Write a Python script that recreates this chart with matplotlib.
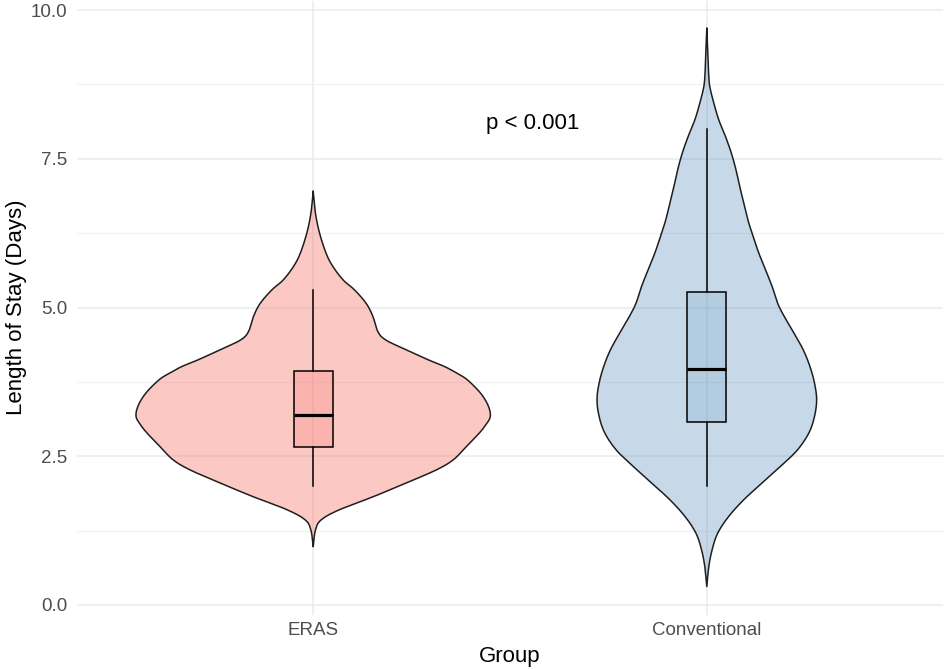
import numpy as np
import matplotlib
matplotlib.use("Agg")
import matplotlib.pyplot as plt
from matplotlib.patches import Rectangle

plt.rcParams['font.family'] = ['Liberation Sans', 'DejaVu Sans']

groups = ['ERAS', 'Conventional']

# Violin outlines: length of stay (days) and relative half-width
eras_los = [6.95, 6.58, 6.25, 5.91, 5.69, 5.46, 5.30, 5.07, 4.85, 4.59, 4.45,
            4.29, 4.12, 4.01, 3.89, 3.78, 3.56, 3.35, 3.17, 3.03, 2.89, 2.66, 2.44,
            2.27, 2.05, 1.82, 1.60, 1.43, 1.26, 0.98]
eras_width = [0.000, 0.013, 0.036, 0.073, 0.111, 0.170, 0.232, 0.299, 0.337,
              0.366, 0.412, 0.525, 0.650, 0.740, 0.815, 0.872, 0.945, 0.988, 1.000,
              0.975, 0.938, 0.864, 0.791, 0.695, 0.525, 0.339, 0.147, 0.045, 0.013,
              0.000]

conv_los = [9.69, 9.27, 8.94, 8.71, 8.43, 8.15, 7.87, 7.59, 7.31, 7.03, 6.75, 6.47,
            6.19, 5.91, 5.63, 5.35, 5.07, 4.85, 4.57, 4.29, 4.01, 3.73, 3.45, 3.17,
            2.89, 2.60, 2.33, 2.05, 1.77, 1.49, 1.21, 0.93, 0.64, 0.31]
conv_width = [0.000, 0.006, 0.010, 0.017, 0.040, 0.068, 0.106, 0.139, 0.165, 0.186,
              0.209, 0.232, 0.262, 0.294, 0.332, 0.369, 0.400, 0.437, 0.492, 0.544,
              0.582, 0.608, 0.620, 0.608, 0.576, 0.510, 0.416, 0.312, 0.209, 0.124,
              0.062, 0.030, 0.011, 0.000]

# Boxplot statistics
whisker_low = [2.00, 2.00]
q1 = [2.65, 3.07]
median = [3.20, 3.96]
q3 = [3.93, 5.26]
whisker_high = [5.30, 8.00]

p_label = 'p < 0.001'

violin_colors = ['#F8766D', '#4682B4']
violin_alpha = [0.40, 0.30]
box_alpha = [0.25, 0.15]


def smooth_curve(xs, ys, n=12):
    """Catmull-Rom rendering of a polyline through the given points."""
    p = np.column_stack([xs, ys]).astype(float)
    p = np.vstack([p[0], p, p[-1]])
    out = []
    t = np.linspace(0, 1, n, endpoint=False)[:, None]
    for k in range(1, len(p) - 2):
        p0, p1, p2, p3 = p[k - 1], p[k], p[k + 1], p[k + 2]
        seg = 0.5 * ((2 * p1) + (-p0 + p2) * t + (2 * p0 - 5 * p1 + 4 * p2 - p3) * t ** 2
                     + (-p0 + 3 * p1 - 3 * p2 + p3) * t ** 3)
        out.append(seg)
    out.append(p[-2][None, :])
    out = np.vstack(out)
    return out[:, 0], out[:, 1]


W, H = 944, 670
fig = plt.figure(figsize=(W / 100, H / 100), dpi=100)
ax = fig.add_axes([77 / W, (H - 614.5) / H, 866 / W, 614 / H])

ax.set_xlim(0.4, 2.6)
ax.set_ylim(-0.16, 10.16)

# grid
for v in [1.25, 3.75, 6.25, 8.75]:
    ax.axhline(v, color='#F1F1F1', lw=0.8, zorder=0)
for v in [0, 2.5, 5, 7.5, 10]:
    ax.axhline(v, color='#EBEBEB', lw=1.1, zorder=0)
for v in [1, 2]:
    ax.axvline(v, color='#EBEBEB', lw=1.1, zorder=0)

datasets = [(eras_los, eras_width), (conv_los, conv_width)]
for i, (los, wid) in enumerate(datasets):
    xc = i + 1
    hw, y = smooth_curve(0.45 * np.array(wid), np.array(los))
    hw = np.clip(hw, 0, None)
    ax.fill_betweenx(y, xc - hw, xc + hw, facecolor=violin_colors[i],
                     alpha=violin_alpha[i], edgecolor='none', zorder=2)
    ox = np.concatenate([xc + hw, (xc - hw)[::-1]])
    oy = np.concatenate([y, y[::-1]])
    ax.plot(ox, oy, color='#1E1E1E', lw=1.1, zorder=3, solid_joinstyle='round')
    # box
    bw = 0.1
    ax.add_patch(Rectangle((xc - bw / 2, q1[i]), bw, q3[i] - q1[i],
                           facecolor=violin_colors[i], alpha=box_alpha[i],
                           edgecolor='none', zorder=4))
    ax.add_patch(Rectangle((xc - bw / 2, q1[i]), bw, q3[i] - q1[i],
                           facecolor='none', edgecolor='black', lw=1.1, zorder=5))
    ax.plot([xc, xc], [whisker_low[i], q1[i]], color='black', lw=1.1, zorder=5)
    ax.plot([xc, xc], [q3[i], whisker_high[i]], color='black', lw=1.1, zorder=5)
    ax.plot([xc - bw / 2, xc + bw / 2], [median[i], median[i]], color='black',
            lw=2.3, zorder=6, solid_capstyle='butt')

ax.text(1.557, 8.0, p_label, ha='center', va='baseline', fontsize=16, color='black')

ax.set_xticks([1, 2])
ax.set_xticklabels(groups)
ax.set_yticks([0, 2.5, 5, 7.5, 10])
ax.set_yticklabels(['0.0', '2.5', '5.0', '7.5', '10.0'])
ax.tick_params(axis='both', length=0, labelsize=13.5, labelcolor='#4D4D4D')
ax.tick_params(axis='x', pad=5.2)
ax.tick_params(axis='y', pad=6.7)
for s in ax.spines.values():
    s.set_visible(False)

fig.text(510 / W, 1 - 661.7 / H, 'Group', ha='center', va='baseline', fontsize=16)
fig.text(17 / W, 1 - 307.5 / H, 'Length of Stay (Days)', ha='center', va='center',
         rotation=90, fontsize=16)

fig.savefig('out.png', dpi=100, facecolor='white')
